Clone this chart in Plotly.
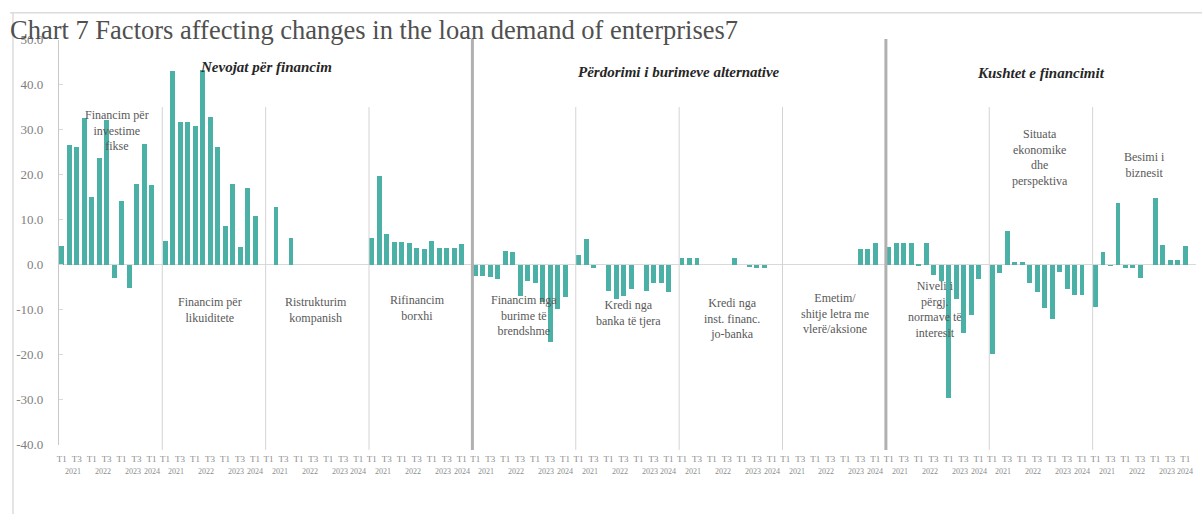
import plotly.graph_objects as go

# Quarter / year of each observation inside a factor group (T1 2021 .. T1 2024)
quarters = ["T1", "T2", "T3", "T4", "T1", "T2", "T3", "T4", "T1", "T2", "T3", "T4", "T1"]
years = ["2021"] * 4 + ["2022"] * 4 + ["2023"] * 4 + ["2024"]

# Factor groups (labels drawn inside the chart)
factors = [
    "Financim për<br>investime<br>fikse",
    "Financim për<br>likuiditete",
    "Ristrukturim<br>kompanish",
    "Rifinancim<br>borxhi",
    "Financim nga<br>burime të<br>brendshme",
    "Kredi nga<br>banka të tjera",
    "Kredi nga<br>inst. financ.<br>jo-banka",
    "Emetim/<br>shitje letra me<br>vlerë/aksione",
    "Niveli i<br>përgj.<br>normave të<br>interesit",
    "Situata<br>ekonomike<br>dhe<br>perspektiva",
    "Besimi i<br>biznesit",
]

sections = ["Nevojat për financim", "Përdorimi i burimeve alternative", "Kushtet e financimit"]

# Net percentages per factor, T1 2021 .. T1 2024
investime_fikse = [4.2, 26.7, 26.2, 32.6, 15.2, 23.8, 32.3, -2.8, 14.3, -5.0, 18.0, 27.0, 17.8]
likuiditete = [5.4, 43.1, 31.7, 31.7, 31.0, 43.3, 32.8, 26.2, 8.7, 18.0, 3.9, 17.1, 10.8]
ristrukturim = [0, 13.0, 0, 6.1, 0, 0, 0, 0, 0, 0, 0, 0, 0]
rifinancim = [6.1, 19.8, 6.9, 5.2, 5.2, 5.0, 3.8, 3.6, 5.4, 3.8, 3.8, 3.8, 4.7]
burime_brendshme = [-2.5, -2.5, -2.6, -3.2, 3.2, 2.9, -6.9, -3.6, -3.9, -8.3, -17.0, -9.7, -7.2]
banka_tjera = [2.2, 5.8, -0.7, 0, -5.8, -7.6, -6.9, -5.4, 0, -5.8, -4.0, -4.0, -6.1]
jo_banka = [1.5, 1.5, 1.6, 0, 0, 0, 0, 1.6, 0, -0.5, -0.6, -0.7, 0]
letra_vlere = [0, 0, 0, 0, 0, 0, 0, 0, 0, 0, 3.6, 3.6, 4.8]
normat_interesit = [4.0, 4.8, 4.8, 5.0, 0.3, 4.8, -2.2, -3.6, -29.6, -7.6, -15.2, -11.2, -3.2]
situata_ekonomike = [-19.8, -1.8, 7.6, 0.7, 0.7, -4.0, -6.1, -9.6, -11.9, -1.6, -5.4, -6.7, -6.7]
besimi_biznesit = [-9.4, 2.9, -0.2, 13.7, -0.7, -0.7, -2.9, 0, 14.9, 4.5, 1.2, 1.2, 4.3]

series = [investime_fikse, likuiditete, ristrukturim, rifinancim, burime_brendshme,
          banka_tjera, jo_banka, letra_vlere, normat_interesit, situata_ekonomike,
          besimi_biznesit]

y_ticks = [50, 40, 30, 20, 10, 0, -10, -20, -30, -40]

# ---- layout helpers -------------------------------------------------------
W, H = 1202, 522
PERIOD = 13.8          # slots taken by one factor group (13 bars + gap)
SEP_OFF = 0.37         # separator sits just left of the first bar
n_q = len(quarters)
n_g = len(series)
x_lo = -SEP_OFF
x_hi = n_g * PERIOD - SEP_OFF

def py(px):            # pixel row -> paper fraction
    return (H - px) / H

BAR = "#4bb0a5"
SERIF = "Liberation Serif"

xs, ys = [], []
for g, vals in enumerate(series):
    for i, v in enumerate(vals):
        xs.append(g * PERIOD + i)
        ys.append(v)

fig = go.Figure(go.Bar(x=xs, y=ys, width=0.66, marker=dict(color=BAR, line=dict(width=0)),
                       hoverinfo="y"))

# quarter tick labels (every other quarter)
tickvals, ticktext = [], []
for g in range(n_g):
    for i in range(0, n_q, 2):
        tickvals.append(g * PERIOD + i)
        ticktext.append(quarters[i])

annotations = []
# year labels beneath quarters
for g in range(n_g):
    for yr in dict.fromkeys(years):
        idx = [i for i, y in enumerate(years) if y == yr]
        annotations.append(dict(x=g * PERIOD + sum(idx) / len(idx), y=py(478), xref="x", yref="paper",
                                yanchor="middle", text=yr, showarrow=False,
                                font=dict(family=SERIF, size=8, color="#8c8c8c")))

# factor labels (x in data units, y in value units)
factor_pos = [(7.4, 29.8), (19.8, -10.2), (34.0, -10.2), (47.5, -9.7), (61.7, -11.4),
              (75.7, -10.8), (89.5, -12.1), (103.3, -10.8), (116.6, -9.9), (130.6, 23.8), (144.6, 22.2)]
for txt, (fx, fy) in zip(factors, factor_pos):
    annotations.append(dict(x=fx, y=fy, xref="x", yref="y", text=txt, showarrow=False,
                            yanchor="middle", font=dict(family=SERIF, size=12, color="#595959"),
                            align="center"))

# section headings, centred over their groups
section_span = [(0, 3), (4, 7), (8, 10)]
section_row = [62, 67, 68]
for name, (a, b), row in zip(sections, section_span, section_row):
    left = a * PERIOD - SEP_OFF
    right = (b + 1) * PERIOD - SEP_OFF
    annotations.append(dict(x=(left + right) / 2, y=py(row), xref="x", yref="paper",
                            yanchor="middle", text=f"<b><i>{name}</i></b>", showarrow=False,
                            font=dict(family=SERIF, size=15, color="#262626")))

# chart title
annotations.append(dict(x=6 / W, y=py(24), xref="paper", yref="paper", xanchor="left", yanchor="middle",
                        text="Chart 7 Factors affecting changes in the loan demand of enterprises7",
                        showarrow=False, font=dict(family=SERIF, size=26.5, color="#505050")))

shapes = []
for g in range(1, n_g):
    x = g * PERIOD - SEP_OFF
    thick = g in (4, 8)
    shapes.append(dict(type="line", xref="x", yref="paper", x0=x, x1=x,
                       y0=py(456), y1=py(33 if thick else 103),
                       line=dict(color="#b0b0b0" if thick else "#d4d4d4", width=3 if thick else 1)))
# outer frame edges
shapes.append(dict(type="line", xref="paper", yref="paper", x0=8 / W, x1=1, y0=py(6), y1=py(6),
                   line=dict(color="#dcdcdc", width=1.5)))
shapes.append(dict(type="line", xref="paper", yref="paper", x0=11 / W, x1=11 / W, y0=0, y1=py(6),
                   line=dict(color="#dcdcdc", width=1.5)))

fig.update_layout(
    width=W, height=H, margin=dict(l=0, r=0, t=0, b=0),
    paper_bgcolor="white", plot_bgcolor="white", showlegend=False,
    bargap=0, annotations=annotations, shapes=shapes,
    xaxis=dict(range=[x_lo, x_hi], domain=[57 / W, 1196 / W], showgrid=False, zeroline=False,
               showline=False, tickmode="array", tickvals=tickvals, ticktext=ticktext, tickangle=0,
               ticks="", ticklabelstandoff=7,
               tickfont=dict(family=SERIF, size=9, color="#8c8c8c")),
    yaxis=dict(range=[-40, 50], domain=[py(450.5), py(33.5)], showgrid=False,
               zeroline=True, zerolinecolor="#d9d9d9", zerolinewidth=1,
               showline=True, linecolor="#c8c8c8", linewidth=1,
               ticks="inside", ticklen=4, tickcolor="#d9d9d9",
               tickmode="array", tickvals=y_ticks, ticktext=[f"{v:.1f}" for v in y_ticks],
               ticklabelstandoff=12, tickfont=dict(family=SERIF, size=13, color="#808080")),
)

fig.write_html("out.html")
